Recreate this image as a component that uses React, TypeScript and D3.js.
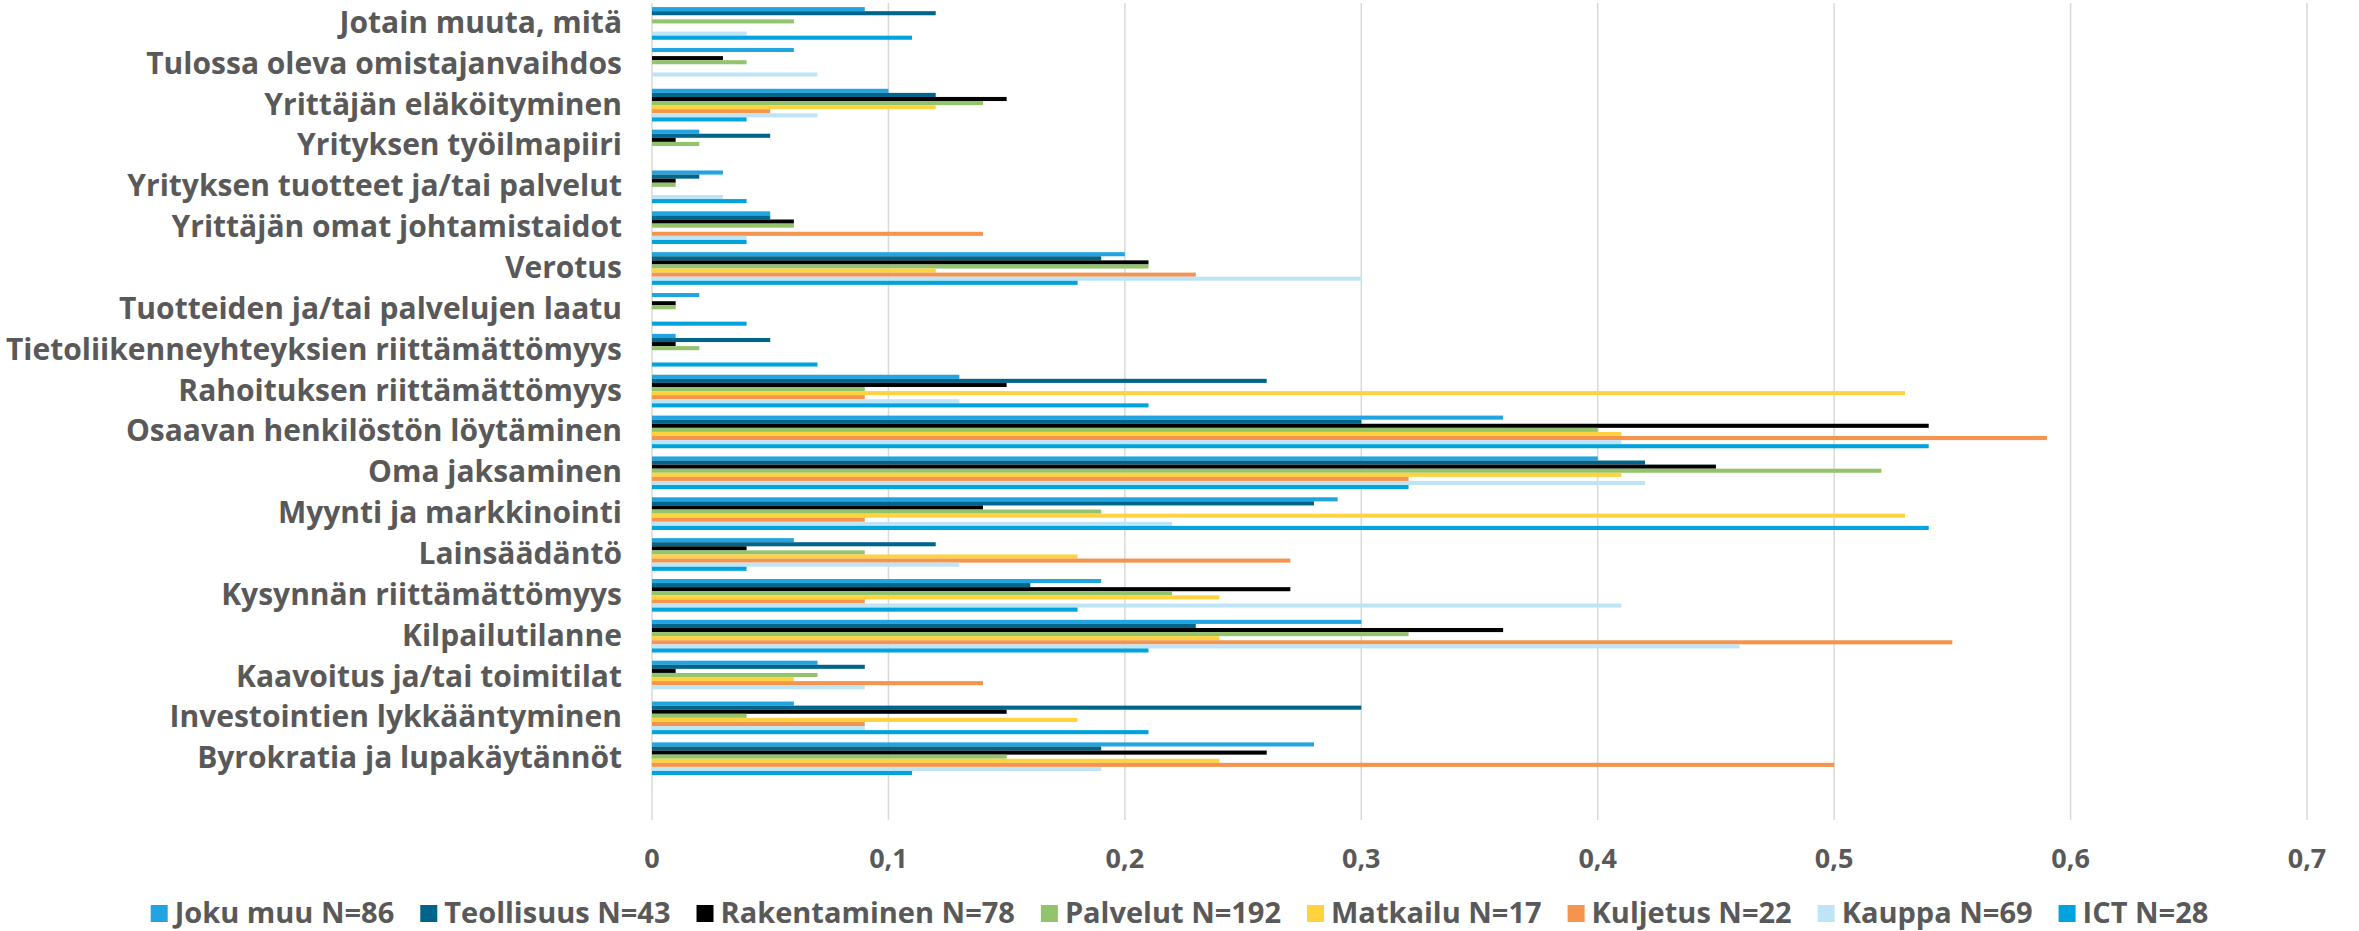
import React, { useEffect, useMemo } from "react";
import * as d3 from "d3";

const WIDTH = 2359;
const HEIGHT = 931;

const categories = [
  "Jotain muuta, mitä",
  "Tulossa oleva omistajanvaihdos",
  "Yrittäjän eläköityminen",
  "Yrityksen työilmapiiri",
  "Yrityksen tuotteet ja/tai palvelut",
  "Yrittäjän omat johtamistaidot",
  "Verotus",
  "Tuotteiden ja/tai palvelujen laatu",
  "Tietoliikenneyhteyksien riittämättömyys",
  "Rahoituksen riittämättömyys",
  "Osaavan henkilöstön löytäminen",
  "Oma jaksaminen",
  "Myynti ja markkinointi",
  "Lainsäädäntö",
  "Kysynnän riittämättömyys",
  "Kilpailutilanne",
  "Kaavoitus ja/tai toimitilat",
  "Investointien lykkääntyminen",
  "Byrokratia ja lupakäytännöt",
];

const seriesNames = [
  "Joku muu N=86",
  "Teollisuus N=43",
  "Rakentaminen N=78",
  "Palvelut N=192",
  "Matkailu N=17",
  "Kuljetus N=22",
  "Kauppa N=69",
  "ICT N=28",
];

const jokuMuu = [0.09, 0.06, 0.10, 0.02, 0.03, 0.05, 0.20, 0.02, 0.01, 0.13, 0.36, 0.40, 0.29, 0.06, 0.19, 0.30, 0.07, 0.06, 0.28];
const teollisuus = [0.12, 0, 0.12, 0.05, 0.02, 0.05, 0.19, 0, 0.05, 0.26, 0.30, 0.42, 0.28, 0.12, 0.16, 0.23, 0.09, 0.30, 0.19];
const rakentaminen = [0, 0.03, 0.15, 0.01, 0.01, 0.06, 0.21, 0.01, 0.01, 0.15, 0.54, 0.45, 0.14, 0.04, 0.27, 0.36, 0.01, 0.15, 0.26];
const palvelut = [0.06, 0.04, 0.14, 0.02, 0.01, 0.06, 0.21, 0.01, 0.02, 0.09, 0.40, 0.52, 0.19, 0.09, 0.22, 0.32, 0.07, 0.04, 0.15];
const matkailu = [0, 0, 0.12, 0, 0, 0, 0.12, 0, 0, 0.53, 0.41, 0.41, 0.53, 0.18, 0.24, 0.24, 0.06, 0.18, 0.24];
const kuljetus = [0, 0, 0.05, 0, 0, 0.14, 0.23, 0, 0, 0.09, 0.59, 0.32, 0.09, 0.27, 0.09, 0.55, 0.14, 0.09, 0.50];
const kauppa = [0.04, 0.07, 0.07, 0, 0.03, 0.04, 0.30, 0, 0, 0.13, 0.41, 0.42, 0.22, 0.13, 0.41, 0.46, 0.09, 0.09, 0.19];
const ict = [0.11, 0, 0.04, 0, 0.04, 0.04, 0.18, 0.04, 0.07, 0.21, 0.54, 0.32, 0.54, 0.04, 0.18, 0.21, 0, 0.21, 0.11];

const seriesValues = [jokuMuu, teollisuus, rakentaminen, palvelut, matkailu, kuljetus, kauppa, ict];
const seriesColors = ["#22A4E0", "#00658A", "#000000", "#93C36B", "#FFD33F", "#F4944F", "#BEE4F6", "#00A3DB"];

const xTicks = [0, 0.1, 0.2, 0.3, 0.4, 0.5, 0.6, 0.7];

const FONT = "'Open Sans', 'DejaVu Sans', sans-serif";
const TEXT_COLOR = "#595959";

export default function App() {
  useEffect(() => {
    document.body.style.margin = "0";
  }, []);

  const plotLeft = 652;
  const plotRight = 2307;
  const plotTop = 3;
  const plotBottom = 820;

  const x = d3.scaleLinear().domain([0, 0.7]).range([plotLeft, plotRight]);
  // one empty slot at the bottom, as in the original chart
  const slots = [...categories, "__blank__"];
  const y = d3.scaleBand().domain(slots).range([plotTop, plotBottom]).paddingInner(0.2).paddingOuter(0.1);
  const ySeries = d3.scaleBand().domain(seriesNames).range([0, y.bandwidth()]);

  const labelFont = 30;
  const tickFont = 27;
  const legendFont = 29;

  const legend = useMemo(() => {
    const canvas = document.createElement("canvas");
    const ctx = canvas.getContext("2d")!;
    ctx.font = `700 ${legendFont}px ${FONT}`;
    const sq = 17;
    const gapSqText = 7;
    const gapItems = 26;
    const widths = seriesNames.map((s) => ctx.measureText(s).width);
    const total = widths.reduce((a, w) => a + sq + gapSqText + w, 0) + gapItems * (seriesNames.length - 1);
    let cx = WIDTH / 2 - total / 2;
    return seriesNames.map((s, i) => {
      const item = { name: s, color: seriesColors[i], x: cx, textX: cx + sq + gapSqText };
      cx += sq + gapSqText + widths[i] + gapItems;
      return item;
    });
  }, []);

  return (
    <svg width={WIDTH} height={HEIGHT} style={{ display: "block", background: "#fff" }} fontFamily={FONT}>
      {xTicks.map((t) => (
        <line key={"g" + t} x1={x(t)} x2={x(t)} y1={plotTop} y2={plotBottom} stroke="#D9D9D9" strokeWidth={1.5} />
      ))}
      {categories.map((c, ci) => (
        <g key={c} transform={`translate(0,${y(c)})`}>
          {seriesNames.map((s, si) => {
            const v = seriesValues[si][ci];
            if (!v) return null;
            return (
              <rect
                key={s}
                x={x(0)}
                y={ySeries(s)}
                width={x(v) - x(0)}
                height={ySeries.bandwidth()}
                fill={seriesColors[si]}
              />
            );
          })}
        </g>
      ))}
      {categories.map((c) => (
        <text
          key={"l" + c}
          x={622}
          y={(y(c) ?? 0) + y.bandwidth() / 2 - 2}
          textAnchor="end"
          dominantBaseline="central"
          fontSize={labelFont}
          fontWeight={700}
          fill={TEXT_COLOR}
        >
          {c}
        </text>
      ))}
      {xTicks.map((t) => (
        <text
          key={"t" + t}
          x={x(t)}
          y={857}
          textAnchor="middle"
          dominantBaseline="central"
          fontSize={tickFont}
          fontWeight={700}
          fill={TEXT_COLOR}
        >
          {d3.format(".1~f")(t).replace(".", ",")}
        </text>
      ))}
      {legend.map((l) => (
        <g key={l.name}>
          <rect x={l.x} y={905} width={17} height={17} fill={l.color} />
          <text
            x={l.textX}
            y={911}
            dominantBaseline="central"
            fontSize={legendFont}
            fontWeight={700}
            fill={TEXT_COLOR}
          >
            {l.name}
          </text>
        </g>
      ))}
    </svg>
  );
}
